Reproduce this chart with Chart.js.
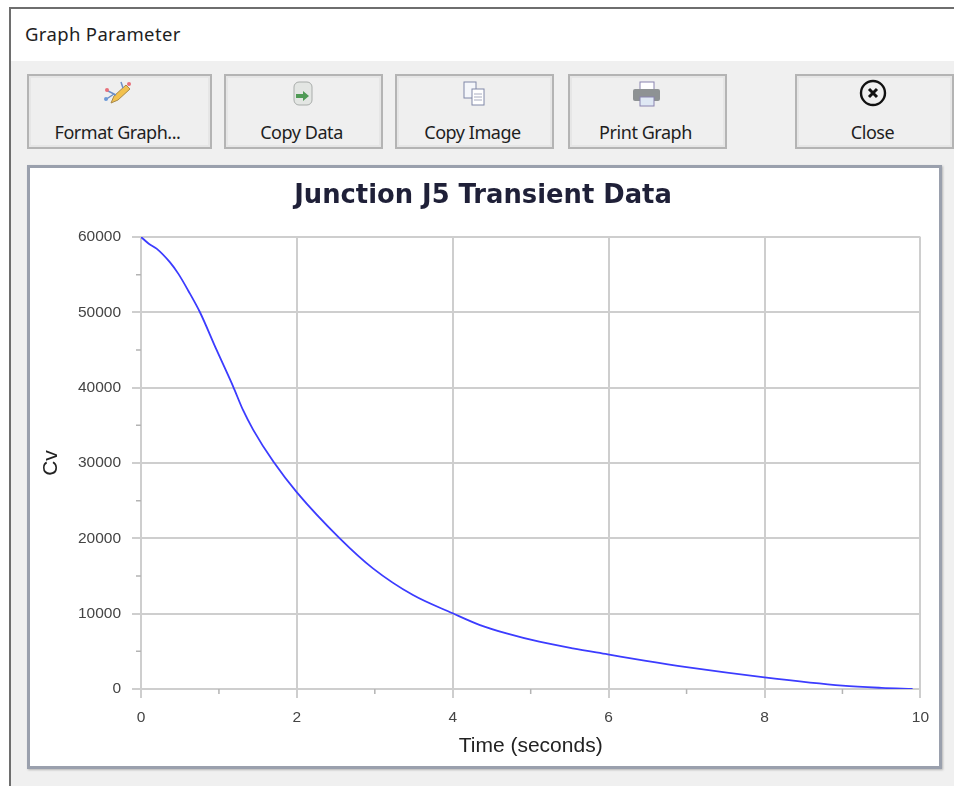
<!DOCTYPE html>
<html>
<head>
<meta charset="utf-8">
<script src="https://cdn.jsdelivr.net/npm/chart.js@4"></script>
<style>
html, body { margin: 0; padding: 0; background: #fff; }
body { width: 954px; height: 786px; position: relative; overflow: hidden; font-family: "Noto Sans", sans-serif; color: #1e1e1e; }
#dialog { position: absolute; left: 9px; top: 7px; width: 945px; height: 779px; border-top: 2px solid #6e6e6e; border-left: 2px solid #6e6e6e; box-sizing: border-box; background: #f0f0f0; }
#titlebar { position: absolute; left: 0; top: 0; width: 100%; height: 52px; background: #fff; }
#caption { position: absolute; left: 25px; top: 22px; font-size: 18.5px; line-height: 24px; letter-spacing: 0.35px; color: #1e1e1e; white-space: nowrap; }
.btn { position: absolute; top: 74px; height: 75px; box-sizing: border-box; border: 2px solid #b4b4b4; background: #efefef; box-shadow: inset 0 0 0 2px #e6e6e6; text-align: center; }
.btn span { position: absolute; left: -4px; right: 0; top: 44px; font-size: 18px; line-height: 24px; letter-spacing: -0.45px; white-space: nowrap; }
.btn svg { position: absolute; left: 50%; top: 3px; margin-left: -17px; }
#panel { position: absolute; left: 27px; top: 165px; width: 915px; height: 604px; box-sizing: border-box; border: 3px solid #9aa0ad; background: #fff; box-shadow: 1px 1px 2px #b5b5b5; }
#chart { position: absolute; left: 31px; top: 168px; }
</style>
</head>
<body>
<div id="dialog"><div id="titlebar"></div></div>
<div id="caption">Graph Parameter</div>

<div class="btn" style="left:27px;width:185px">
  <svg width="30" height="30" viewBox="0 0 30 30">
    <path d="M8 24 L11 17 L23 6 L27 10 L15 21 Z" fill="#f2c14e" stroke="#a8894a"/>
    <path d="M3 11 L13 16 M2 21 L11 15 M18 3 L20 9" stroke="#6c8fc7" stroke-width="1.5"/>
    <circle cx="4" cy="11" r="2" fill="#e8707a"/><circle cx="26" cy="5" r="2" fill="#e8707a"/><circle cx="3" cy="20" r="2" fill="#6c9ad8"/>
  </svg>
  <span>Format Graph...</span>
</div>
<div class="btn" style="left:224px;width:159px">
  <svg width="30" height="30" viewBox="0 0 30 30">
    <rect x="7" y="3" width="18" height="23" rx="5" fill="#e3e6e3" stroke="#a9adab"/>
    <path d="M9 15 H16 V12 L22 17 L16 22 V19 H9 Z" fill="#4f9a55"/>
  </svg>
  <span>Copy Data</span>
</div>
<div class="btn" style="left:395px;width:159px">
  <svg width="30" height="30" viewBox="0 0 30 30">
    <rect x="6" y="3" width="12" height="16" fill="#f4f6fa" stroke="#8088a8"/>
    <rect x="14" y="10" width="12" height="16" fill="#fff" stroke="#8088a8"/>
    <path d="M16 15 H24 M16 18 H24 M16 21 H24" stroke="#a8acc0"/>
  </svg>
  <span>Copy Image</span>
</div>
<div class="btn" style="left:568px;width:159px">
  <svg width="30" height="30" viewBox="0 0 30 30">
    <rect x="9" y="3" width="14" height="10" fill="#fff" stroke="#8a84b0"/>
    <rect x="2" y="10" width="27" height="12" rx="2" fill="#8e9294"/>
    <rect x="9" y="18" width="14" height="9" fill="#dfe8f4" stroke="#8a84b0"/>
  </svg>
  <span>Print Graph</span>
</div>
<div class="btn" style="left:795px;width:159px">
  <svg width="30" height="30" viewBox="0 0 30 30">
    <circle cx="15" cy="14" r="12" fill="none" stroke="#111" stroke-width="2.4"/>
    <path d="M11 10 L19 18 M19 10 L11 18" stroke="#111" stroke-width="3"/>
  </svg>
  <span>Close</span>
</div>

<div id="panel"></div>
<canvas id="chart" width="908" height="598"></canvas>

<script>
const timeValues = [0, 0.1, 0.2, 0.37, 0.48, 0.605, 0.755, 0.97, 1.18, 1.31, 1.44, 1.7, 2, 2.55, 2.98, 3.49, 4, 4.35, 4.69, 5.11, 5.54, 5.99, 6.48, 7, 8, 9, 9.5, 9.9];
const cvValues = [60000, 59100, 58450, 56650, 55100, 52900, 50040, 45000, 40200, 37000, 34400, 30150, 26100, 20000, 15980, 12470, 10050, 8490, 7380, 6280, 5400, 4600, 3730, 2900, 1550, 450, 150, 0];

const titleText = 'Junction J5 Transient Data';
const xAxisTitle = 'Time (seconds)';
const yAxisTitle = 'Cv';

const gridColor = '#cecece';
const tickFont = { family: 'Liberation Sans', size: 15.5 };

// short ticks for the in-between values, chart.js has one tick length per axis
const minorTicks = {
    id: 'minorTicks',
    beforeDatasetsDraw(chart) {
        const c = chart.ctx;
        const x = chart.scales.x, y = chart.scales.y;
        c.save();
        c.strokeStyle = '#b4b4b4';
        c.lineWidth = 1.5;
        c.beginPath();
        x.ticks.forEach(t => {
            if (t.value % 2 !== 0) {
                const px = x.getPixelForValue(t.value);
                c.moveTo(px, y.bottom);
                c.lineTo(px, y.bottom + 5);
            }
        });
        y.ticks.forEach(t => {
            if (t.value % 10000 !== 0) {
                const py = y.getPixelForValue(t.value);
                c.moveTo(x.left - 5, py);
                c.lineTo(x.left, py);
            }
        });
        c.stroke();
        c.restore();
    }
};

new Chart(document.getElementById('chart').getContext('2d'), {
    type: 'line',
    data: {
        datasets: [{
            data: timeValues.map((t, i) => ({ x: t, y: cvValues[i] })),
            borderColor: '#3c3cff',
            borderWidth: 1.8,
            pointRadius: 0,
            cubicInterpolationMode: 'monotone'
        }]
    },
    options: {
        responsive: false,
        animation: false,
        layout: { padding: { left: 12, right: 16 } },
        plugins: {
            legend: { display: false },
            tooltip: { enabled: false },
            title: {
                display: true,
                text: titleText,
                color: '#1f2038',
                font: { family: 'DejaVu Sans', size: 25.8, weight: 'bold' },
                padding: { top: 13, bottom: 25 }
            }
        },
        scales: {
            x: {
                type: 'linear',
                min: 0,
                max: 10,
                afterFit(s) { s.height = 77; },
                border: { color: gridColor, width: 2 },
                grid: {
                    lineWidth: 2,
                    tickLength: 9,
                    color: c => c.tick.value % 2 === 0 ? gridColor : 'transparent'
                },
                ticks: {
                    stepSize: 1,
                    autoSkip: false,
                    maxRotation: 0,
                    padding: 10,
                    color: '#444',
                    font: tickFont,
                    callback: v => v % 2 === 0 ? v : ''
                },
                title: {
                    display: true,
                    text: xAxisTitle,
                    color: '#222',
                    font: { family: 'Liberation Sans', size: 21 },
                    padding: { top: 0, bottom: 7 }
                }
            },
            y: {
                min: 0,
                max: 60000,
                afterFit(s) { s.width = 98; },
                border: { color: gridColor, width: 2 },
                grid: {
                    lineWidth: 2,
                    tickLength: 9,
                    color: c => c.tick.value % 10000 === 0 ? gridColor : 'transparent'
                },
                ticks: {
                    stepSize: 5000,
                    autoSkip: false,
                    padding: 11,
                    color: '#444',
                    font: tickFont,
                    callback: v => v % 10000 === 0 ? v : ''
                },
                title: {
                    display: true,
                    text: yAxisTitle,
                    color: '#222',
                    font: { family: 'Liberation Sans', size: 21 },
                    padding: { top: -4, bottom: 0 }
                }
            }
        }
    },
    plugins: [minorTicks]
});
</script>
</body>
</html>
